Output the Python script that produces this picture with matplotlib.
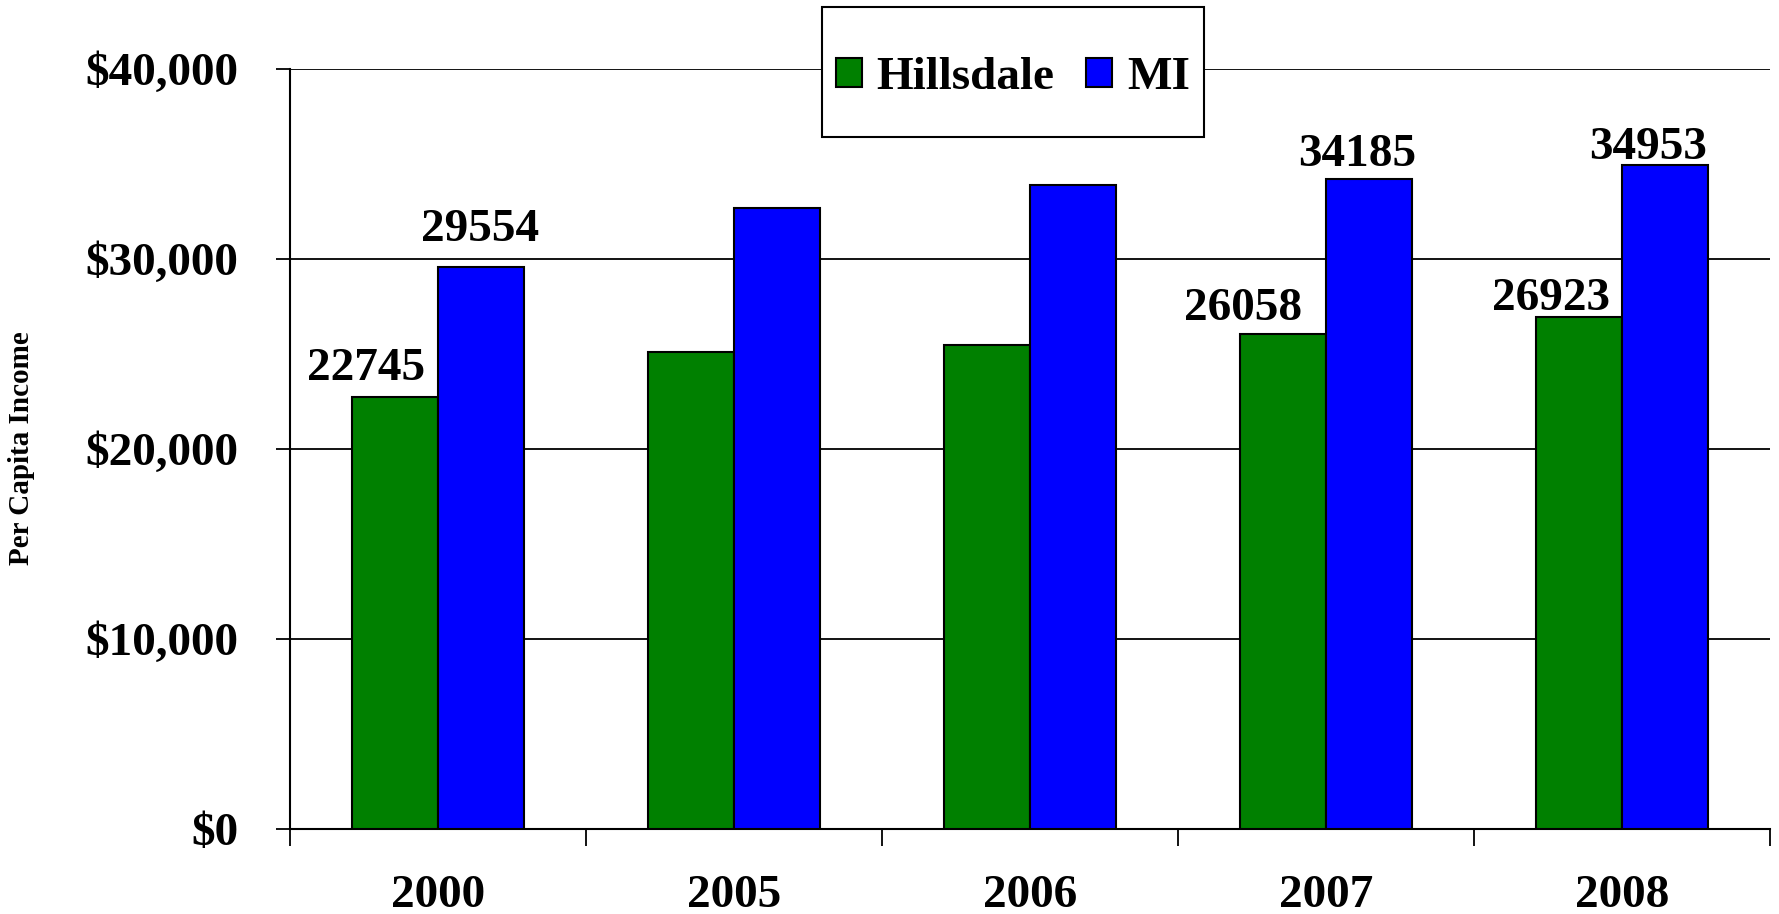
import matplotlib
matplotlib.use("Agg")
import matplotlib.pyplot as plt
from matplotlib.patches import Rectangle
from matplotlib.ticker import FuncFormatter
import numpy as np

# Data
years = ['2000', '2005', '2006', '2007', '2008']
hillsdale = [22745, 25100, 25500, 26058, 26923]
mi = [29554, 32700, 33900, 34185, 34953]
# labels shown on the chart (None = no label)
hillsdale_labels = ['22745', None, None, '26058', '26923']
mi_labels = ['29554', None, None, '34185', '34953']

plt.rcParams['font.family'] = ['Liberation Serif', 'DejaVu Serif']
plt.rcParams['font.weight'] = 'bold'

fig = plt.figure(figsize=(17.79, 9.14), dpi=100)
ax = fig.add_axes([0.163, 0.093, 0.832, 0.8315])

x = np.arange(len(years))
w = 0.29
b1 = ax.bar(x - w / 2, hillsdale, w, color='#008000', edgecolor='black', linewidth=1.5, label='Hillsdale', zorder=3)
b2 = ax.bar(x + w / 2, mi, w, color='#0000ff', edgecolor='black', linewidth=1.5, label='MI', zorder=3)

# value labels (pixel offsets roughly as in the original)
h_off = [(-29, 17), None, None, (-40, 14), (-28, 7)]
m_off = [(-1, 26), None, None, (-12, 13), (-17, 6)]
for i in range(len(years)):
    if hillsdale_labels[i]:
        ax.annotate(hillsdale_labels[i], (x[i] - w / 2, hillsdale[i]), xytext=h_off[i],
                    textcoords='offset pixels', ha='center', va='baseline',
                    fontsize=34, fontweight='bold', zorder=5)
    if mi_labels[i]:
        ax.annotate(mi_labels[i], (x[i] + w / 2, mi[i]), xytext=m_off[i],
                    textcoords='offset pixels', ha='center', va='baseline',
                    fontsize=34, fontweight='bold', zorder=5)

ax.set_xlim(-0.5, len(years) - 0.5)
ax.set_ylim(0, 40000)
ax.set_yticks([0, 10000, 20000, 30000, 40000])
ax.yaxis.set_major_formatter(FuncFormatter(lambda v, p: '${:,.0f}'.format(v)))
ax.grid(axis='y', color='black', linewidth=1.3, zorder=0)

ax.set_xticks(x)
ax.set_xticklabels(years)
ax.set_xticks(np.arange(-0.5, len(years), 1.0), minor=True)
ax.tick_params(axis='x', which='major', length=0, pad=33, labelsize=34)
ax.tick_params(axis='x', which='minor', length=12, width=1.3, direction='out')
ax.tick_params(axis='y', length=10, width=1.3, direction='out', pad=27, labelsize=34)

for s in ['top', 'right']:
    ax.spines[s].set_visible(False)
for s in ['left', 'bottom']:
    ax.spines[s].set_linewidth(1.5)

fig.text(22 / 1779, 1 - 448 / 914, 'Per Capita Income', rotation=90, ha='center', va='center',
         fontsize=21, fontweight='bold')

# legend box drawn above the plot
fig.patches.append(Rectangle((822 / 1779, 1 - 137 / 914), 382 / 1779, 130 / 914,
                             transform=fig.transFigure, facecolor='white', edgecolor='black',
                             linewidth=1.5, zorder=10))
leg = fig.legend(handles=[b1, b2], loc='center', bbox_to_anchor=(1013 / 1779, 1 - 78 / 914),
                 ncol=2, frameon=False, fontsize=34, handlelength=0.55, handleheight=0.55,
                 handletextpad=0.32, columnspacing=0.67)
leg.set_zorder(11)

plt.savefig('out.png', dpi=100)
